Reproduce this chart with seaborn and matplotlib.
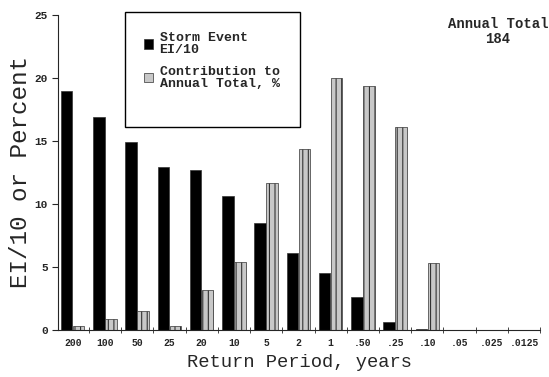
import matplotlib
matplotlib.use("Agg")
import matplotlib.pyplot as plt
import matplotlib.patches as mpatches
import pandas as pd
import seaborn as sns

periods = ["200", "100", "50", "25", "20", "10", "5", "2", "1",
           ".50", ".25", ".10", ".05", ".025", ".0125"]
storm_ei = [19.0, 16.9, 14.9, 12.9, 12.7, 10.6, 8.5, 6.1, 4.5, 2.6, 0.6, 0.1, 0, 0, 0]
contribution = [0.3, 0.9, 1.5, 0.3, 3.2, 5.4, 11.7, 14.4, 20.0, 19.4, 16.1, 5.3, 0, 0, 0]
series = ["Storm Event\nEI/10", "Contribution to\nAnnual Total, %"]

df = pd.DataFrame({
    "period": periods * 2,
    "value": storm_ei + contribution,
    "series": [series[0]] * len(periods) + [series[1]] * len(periods),
})

sns.set_style("ticks")
plt.rcParams["font.family"] = ["Liberation Mono", "DejaVu Sans Mono"]
plt.rcParams["hatch.color"] = "#555555"
plt.rcParams["hatch.linewidth"] = 0.8

fig = plt.figure(figsize=(5.49, 3.77), dpi=100)
ax = fig.add_axes([0.106, 0.125, 0.878, 0.835])

sns.barplot(data=df, x="period", y="value", hue="series", order=periods,
            palette=["black", "#c8c8c8"], width=0.75, gap=0.05,
            edgecolor="#333333", linewidth=0.5, ax=ax)

# hatch the contribution bars
for p in ax.containers[1]:
    p.set_hatch("|||")

ax.set_xlim(-0.45, 14.5)
ax.set_ylim(0, 25)
ax.set_yticks([0, 5, 10, 15, 20, 25])
ax.tick_params(axis="y", labelsize=8, length=4)
for t in ax.get_yticklabels():
    t.set_fontweight("bold")
ax.tick_params(axis="x", which="major", length=0, labelsize=7, pad=6)
for t in ax.get_xticklabels():
    t.set_fontweight("bold")
ax.set_xticks([i + 0.5 for i in range(len(periods))], minor=True)
ax.tick_params(axis="x", which="minor", length=5, direction="inout")
sns.despine(ax=ax)

ax.set_xlabel("Return Period, years", fontsize=13.5)
ax.set_ylabel("EI/10 or Percent", fontsize=17.5, labelpad=2)

# legend frame drawn separately (taller box than the entries need)
frame = mpatches.Rectangle((0.228, 0.663), 0.319, 0.305,
                           transform=fig.transFigure, facecolor="white",
                           edgecolor="black", linewidth=1.0, zorder=3,
                           clip_on=False)
ax.add_artist(frame)
handles, labels = ax.get_legend_handles_labels()
leg = ax.legend(handles, labels, loc="upper left",
                bbox_to_anchor=(0.245, 0.94), bbox_transform=fig.transFigure,
                frameon=False, handlelength=0.7, handleheight=0.7,
                labelspacing=0.7, borderpad=0.2, handletextpad=0.5,
                prop={"size": 9.5, "weight": "bold"})
for t in leg.get_texts():
    t.set_linespacing(1.05)
leg.set_zorder(4)

fig.text(0.907, 0.955, "Annual Total\n184", ha="center", va="top",
         fontsize=10, fontweight="bold", linespacing=1.1)

fig.savefig("out.png", dpi=100)
